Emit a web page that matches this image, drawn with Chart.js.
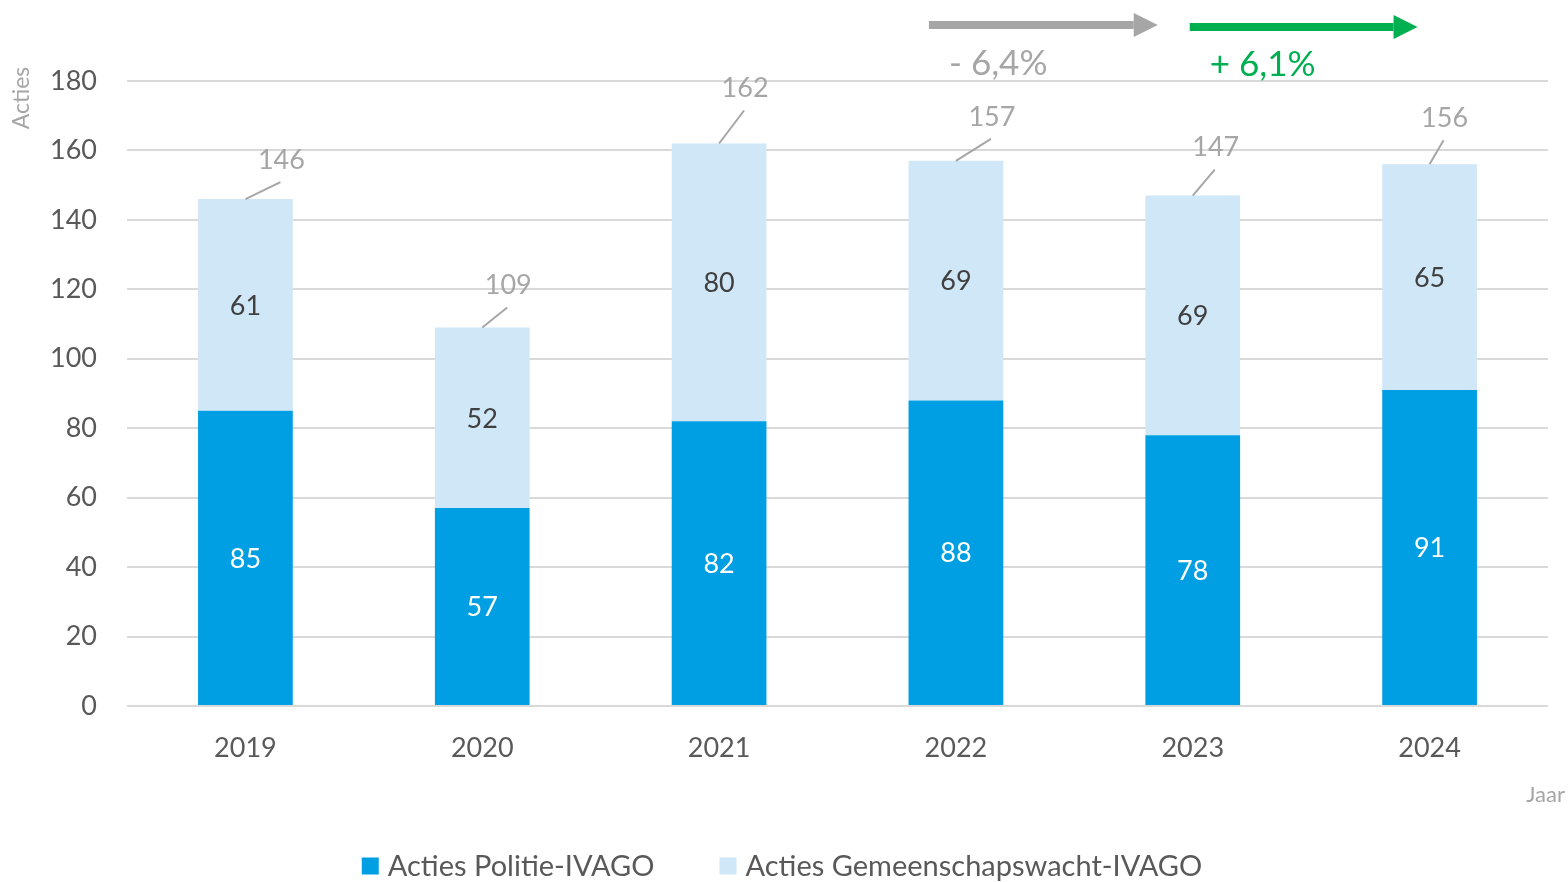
<!DOCTYPE html>
<html lang="nl">
<head>
<meta charset="UTF-8">
<title>Acties IVAGO</title>
<script src="https://cdn.jsdelivr.net/npm/chart.js"></script>
<style>
  html, body { margin: 0; padding: 0; background: #fff; }
</style>
</head>
<body>
<canvas id="chart" width="1568" height="882"></canvas>
<script>
// data
const years = ['2019', '2020', '2021', '2022', '2023', '2024'];
const politie = [85, 57, 82, 88, 78, 91];
const gemeenschap = [61, 52, 80, 69, 69, 65];
const seriesNames = ['Acties Politie-IVAGO', 'Acties Gemeenschapswacht-IVAGO'];
const trendLabels = ['- 6,4%', '+ 6,1%'];
const trendFrom = [3, 4]; // index of the year each trend arrow starts from

// where the total labels sit relative to the bar top (dx, dy)
const totalOffsets = [[36, -39], [26, -42], [26, -55], [36, -44], [23, -48], [15, -46]];
// arrow start / end relative to the category centres
const arrowOffsets = [[-27, -35], [-3, -12]];

const DARK = '#009fe3', LIGHT = '#d0e7f8';
const GREY = '#a6a6a6', TEXT = '#595959', GREEN = '#00b050';
const FONT = 'Lato';

const extras = {
  id: 'extras',
  afterDatasetsDraw(chart) {
    const { ctx, scales: { x, y } } = chart;
    ctx.save();
    ctx.textAlign = 'center';
    ctx.textBaseline = 'middle';

    // values inside the segments
    ctx.font = '27px ' + FONT;
    chart.data.datasets.forEach((ds, di) => {
      ctx.fillStyle = di === 0 ? '#ffffff' : '#404040';
      chart.getDatasetMeta(di).data.forEach((bar, i) => {
        ctx.fillText(ds.data[i], bar.x, (bar.y + bar.base) / 2 + 1);
      });
    });

    // totals with leader lines
    years.forEach((yr, i) => {
      const total = politie[i] + gemeenschap[i];
      const bx = x.getPixelForValue(i);
      const by = y.getPixelForValue(total);
      const lx = bx + totalOffsets[i][0];
      const ly = by + totalOffsets[i][1];
      ctx.strokeStyle = GREY;
      ctx.lineWidth = 2;
      ctx.beginPath();
      ctx.moveTo(bx, by);
      ctx.lineTo(lx - 1, ly + 22);
      ctx.stroke();
      ctx.fillStyle = GREY;
      ctx.fillText(total, lx, ly);
    });

    // trend arrows on top
    trendFrom.forEach((fi, k) => {
      const color = k === 0 ? GREY : GREEN;
      const x0 = x.getPixelForValue(fi) + arrowOffsets[k][0];
      const x1 = x.getPixelForValue(fi + 1) + arrowOffsets[k][1];
      const ay = 25 + k * 2;
      ctx.fillStyle = color;
      ctx.fillRect(x0, ay - 4, x1 - x0 - 24, 8);
      ctx.beginPath();
      ctx.moveTo(x1 - 24, ay - 12);
      ctx.lineTo(x1, ay);
      ctx.lineTo(x1 - 24, ay + 12);
      ctx.closePath();
      ctx.fill();
      ctx.font = '35px ' + FONT;
      ctx.textAlign = 'left';
      ctx.textBaseline = 'alphabetic';
      ctx.fillText(trendLabels[k], x0 + 20, 75 + k);
    });

    // axis titles
    ctx.fillStyle = GREY;
    ctx.font = '23px ' + FONT;
    ctx.textAlign = 'center';
    ctx.textBaseline = 'middle';
    ctx.save();
    ctx.translate(22, 98);
    ctx.rotate(-Math.PI / 2);
    ctx.fillText('Acties', 0, 0);
    ctx.restore();
    ctx.font = '22px ' + FONT;
    ctx.textAlign = 'right';
    ctx.fillText('Jaar', 1565, 795);

    // legend
    ctx.font = '29px ' + FONT;
    ctx.textAlign = 'left';
    const box = 17, gap = 9, spacing = 65;
    const widths = seriesNames.map(n => ctx.measureText(n).width);
    const full = widths.reduce((s, w) => s + box + gap + w, 0) + spacing;
    let lx = 782 - full / 2;
    const legY = 866;
    seriesNames.forEach((n, i) => {
      ctx.fillStyle = i === 0 ? DARK : LIGHT;
      ctx.fillRect(lx, legY - box / 2, box, box);
      ctx.fillStyle = TEXT;
      ctx.fillText(n, lx + box + gap, legY + 1);
      lx += box + gap + widths[i] + spacing;
    });
    ctx.restore();
  }
};

new Chart(document.getElementById('chart'), {
  type: 'bar',
  data: {
    labels: years,
    datasets: [
      { label: seriesNames[0], data: politie, backgroundColor: DARK },
      { label: seriesNames[1], data: gemeenschap, backgroundColor: LIGHT }
    ]
  },
  options: {
    responsive: false,
    animation: false,
    devicePixelRatio: 1,
    layout: { padding: { top: 81, right: 20, left: 0, bottom: 0 } },
    datasets: { bar: { categoryPercentage: 1, barPercentage: 0.4 } },
    plugins: { legend: { display: false }, tooltip: { enabled: false } },
    scales: {
      x: {
        stacked: true,
        grid: { display: false, drawTicks: false },
        border: { display: false },
        ticks: { color: TEXT, font: { family: FONT, size: 27 }, padding: 26 },
        afterFit(s) { s.height = 176; }
      },
      y: {
        stacked: true,
        min: 0,
        max: 180,
        ticks: { stepSize: 20, color: TEXT, font: { family: FONT, size: 27 }, padding: 30 },
        grid: { color: '#d9d9d9', lineWidth: 2, drawTicks: false },
        border: { display: false },
        afterFit(s) { s.width = 127; }
      }
    }
  },
  plugins: [extras]
});
</script>
</body>
</html>
